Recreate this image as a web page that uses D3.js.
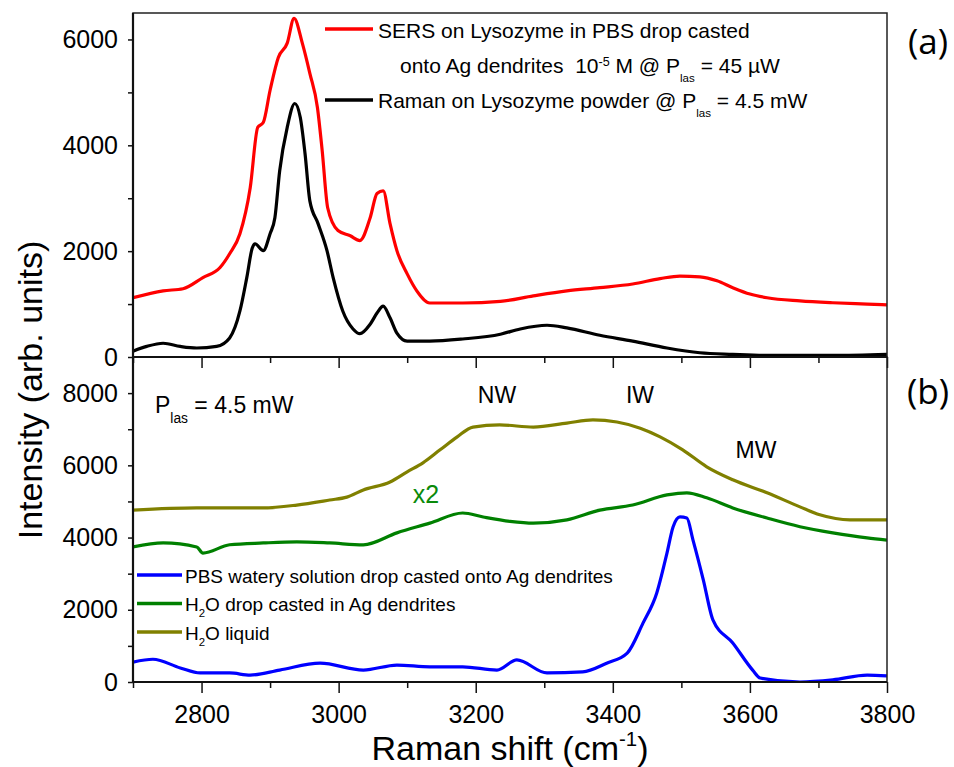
<!DOCTYPE html>
<html><head><meta charset="utf-8">
<script src="https://cdn.jsdelivr.net/npm/d3@7"></script>
<style>
body{margin:0;background:#fff}
svg text{font-family:"Liberation Sans",Arial,sans-serif;fill:#000}
</style></head><body>
<svg id="chart" width="954" height="767"></svg>
<script>
// ---------- DATA ----------
// Panel (a)
const sersShift = [2700,2744,2773,2802,2827,2841,2856,2871,2882,2890,2900,2912,2925,2935,2947,2958,2969,2976,2984,2999,3017,3031,3046,3056,3065,3075,3085,3100,3114,3133,3181,3236,3284,3333,3381,3429,3469,3498,3527,3552,3575,3600,3625,3673,3721,3771,3800];
const sersIntensity = [1120,1250,1290,1500,1690,1950,2330,3200,4340,4430,5040,5660,5930,6400,5930,5360,4720,3900,2820,2390,2290,2200,2630,3090,3140,2520,2010,1570,1250,1020,1020,1050,1155,1250,1310,1380,1480,1530,1515,1440,1310,1190,1120,1060,1025,1000,985];

const powderShift = [2700,2720,2744,2769,2793,2822,2841,2856,2866,2874,2878,2890,2900,2907,2914,2925,2936,2944,2951,2958,2970,2983,2992,3006,3021,3031,3046,3056,3065,3075,3085,3100,3133,3181,3236,3265,3304,3333,3381,3429,3479,3527,3575,3625,3721,3800];
const powderIntensity = [110,200,260,200,170,200,360,870,1500,2060,2140,2010,2330,2630,3520,4340,4790,4530,3840,2950,2520,2010,1500,870,530,440,620,830,960,740,450,300,300,340,430,530,600,550,410,300,170,80,50,30,30,50];

// Panel (b)
const liquidShift = [2700,2793,2890,2939,2987,3012,3036,3075,3100,3123,3148,3173,3196,3235,3284,3333,3371,3406,3440,3469,3502,3537,3575,3625,3673,3702,3746,3800];
const liquidIntensity = [4760,4820,4820,4900,5040,5120,5320,5540,5820,6070,6430,6790,7060,7120,7060,7170,7260,7200,7030,6790,6430,5960,5600,5240,4850,4630,4490,4490];

const agWaterShift = [2700,2744,2793,2802,2841,2890,2939,2987,3036,3085,3133,3181,3211,3250,3284,3333,3381,3429,3479,3508,3537,3575,3625,3673,3721,3771,3800];
const agWaterIntensity = [3740,3850,3740,3570,3800,3850,3880,3850,3800,4130,4400,4680,4570,4450,4400,4490,4760,4900,5180,5240,5100,4820,4540,4300,4130,3990,3930];

const pbsShift = [2700,2729,2769,2798,2841,2871,2914,2973,3036,3085,3133,3181,3231,3260,3304,3356,3391,3421,3444,3464,3479,3488,3498,3508,3517,3532,3546,3575,3604,3615,3673,3721,3771,3800];
const pbsIntensity = [550,630,390,250,250,190,330,520,330,470,420,420,330,610,250,280,520,800,1630,2460,3570,4300,4570,4540,3930,2830,1720,1080,330,110,0,60,190,170];

// Ticks
const xMajorTicks = [2800,3000,3200,3400,3600,3800];
const xMinorTicks = [2700,2900,3100,3300,3500,3700];
const yTopMajor = [0,2000,4000,6000];
const yTopMinor = [1000,3000,5000];
const yBotMajor = [0,2000,4000,6000,8000];
const yBotMinor = [1000,3000,5000,7000];

// ---------- LAYOUT ----------
const L=133, R=887, T=13, M=357, B=682;
const svg = d3.select('#chart');
const x = d3.scaleLinear().domain([2700,3800]).range([L,R]);
const yTop = d3.scaleLinear().domain([0,6500]).range([M,T]);
const yBot = d3.scaleLinear().domain([0,9000]).range([B,M]);

const defs = svg.append('defs');
defs.append('clipPath').attr('id','clipA').append('rect').attr('x',L).attr('y',T).attr('width',R-L).attr('height',M-T);
defs.append('clipPath').attr('id','clipB').append('rect').attr('x',L).attr('y',M).attr('width',R-L).attr('height',B-M);

function zip(a,b){return a.map((v,i)=>[v,b[i]]);}
function drawLine(g, ys, xs, vs, color){
  const line = d3.line().x(d=>x(d[0])).y(d=>ys(d[1])).curve(d3.curveMonotoneX);
  g.append('path').datum(zip(xs,vs)).attr('d',line).attr('fill','none')
    .attr('stroke',color).attr('stroke-width',3.2).attr('stroke-linejoin','round');
}

const gA = svg.append('g').attr('clip-path','url(#clipA)');
drawLine(gA, yTop, sersShift, sersIntensity, '#ff0000');
drawLine(gA, yTop, powderShift, powderIntensity, '#000000');

const gB = svg.append('g').attr('clip-path','url(#clipB)');
drawLine(gB, yBot, liquidShift, liquidIntensity, '#808000');
drawLine(gB, yBot, agWaterShift, agWaterIntensity, '#008000');
drawLine(gB, yBot, pbsShift, pbsIntensity, '#0000ff');

// ---------- AXES ----------
function styleAxis(g){
  g.select('.domain').remove();
  g.attr('font-family',null).attr('font-size',null);
  g.selectAll('line').attr('stroke','#111').attr('stroke-width',1.5);
  g.selectAll('text').attr('font-size',25);
}
// top panel x ticks (pointing down from the shared boundary)
svg.append('g').attr('transform',`translate(0,${M})`)
  .call(d3.axisBottom(x).tickValues(xMajorTicks).tickSize(11).tickFormat('')).call(styleAxis);
svg.append('g').attr('transform',`translate(0,${M})`)
  .call(d3.axisBottom(x).tickValues(xMinorTicks).tickSize(6).tickFormat('')).call(styleAxis);
// bottom panel x axis
svg.append('g').attr('transform',`translate(0,${B})`)
  .call(d3.axisBottom(x).tickValues(xMajorTicks).tickSize(11).tickPadding(12).tickFormat(d3.format('d'))).call(styleAxis);
svg.append('g').attr('transform',`translate(0,${B})`)
  .call(d3.axisBottom(x).tickValues(xMinorTicks).tickSize(6).tickFormat('')).call(styleAxis);
// y axes
svg.append('g').attr('transform',`translate(${L},0)`)
  .call(d3.axisLeft(yTop).tickValues(yTopMajor).tickSize(5).tickPadding(10).tickFormat(d3.format('d'))).call(styleAxis);
svg.append('g').attr('transform',`translate(${L},0)`)
  .call(d3.axisLeft(yTop).tickValues(yTopMinor).tickSize(5).tickFormat('')).call(styleAxis);
svg.append('g').attr('transform',`translate(${L},0)`)
  .call(d3.axisLeft(yBot).tickValues(yBotMajor).tickSize(5).tickPadding(10).tickFormat(d3.format('d'))).call(styleAxis);
svg.append('g').attr('transform',`translate(${L},0)`)
  .call(d3.axisLeft(yBot).tickValues(yBotMinor).tickSize(5).tickFormat('')).call(styleAxis);

// frames
svg.append('rect').attr('x',L).attr('y',T).attr('width',R-L).attr('height',M-T).attr('fill','none').attr('stroke','#222').attr('stroke-width',1.5);
svg.append('rect').attr('x',L).attr('y',M).attr('width',R-L).attr('height',B-M).attr('fill','none').attr('stroke','#222').attr('stroke-width',1.5);
svg.append('line').attr('x1',L).attr('x2',L).attr('y1',T).attr('y2',B).attr('stroke','#111').attr('stroke-width',2.2);
svg.append('line').attr('x1',L).attr('x2',R).attr('y1',M).attr('y2',M).attr('stroke','#111').attr('stroke-width',2.2);
svg.append('line').attr('x1',L).attr('x2',R).attr('y1',B).attr('y2',B).attr('stroke','#111').attr('stroke-width',2.2);

// ---------- TEXT ----------
function rich(g, xx, yy, parts, size, o={}){
  const t = g.append('text').attr('x',xx).attr('y',yy).attr('font-size',size).style('white-space','pre');
  if(o.anchor) t.attr('text-anchor',o.anchor);
  if(o.fill) t.style('fill',o.fill);
  if(o.family) t.style('font-family',o.family);
  if(o.transform) t.attr('transform',o.transform);
  let shift=0;
  parts.forEach(p=>{
    const s=p[0], k=p[1]||'', sc=p[2]||0;
    const target = k==='sup'? -sc*size : k==='sub'? sc*size : 0;
    const ts = t.append('tspan').attr('dy', target-shift).text(s);
    if(k) ts.attr('font-size', size*(p[3]||0.6));
    shift=target;
  });
  return t;
}

// legend (a)
svg.append('line').attr('x1',325).attr('x2',373).attr('y1',29).attr('y2',29).attr('stroke','#ff0000').attr('stroke-width',3.5);
svg.append('line').attr('x1',325).attr('x2',373).attr('y1',100).attr('y2',100).attr('stroke','#000').attr('stroke-width',3.5);
rich(svg,378,38,[['SERS on Lysozyme in PBS drop casted']],21);
rich(svg,400,72.5,[['onto Ag dendrites  10'],['-5','sup',0.3,0.6],[' M @ P'],['las','sub',0.45,0.55],[' = 45 \u00b5W']],21);
rich(svg,378,108,[['Raman on Lysozyme powder @ P'],['las','sub',0.45,0.55],[' = 4.5 mW']],21);

// legend (b)
const legB = [['#0000ff',575],['#008000',603.5],['#808000',632]];
legB.forEach(([c,yy])=>svg.append('line').attr('x1',137).attr('x2',182).attr('y1',yy).attr('y2',yy).attr('stroke',c).attr('stroke-width',3.5));
rich(svg,185,583,[['PBS watery solution drop casted onto Ag dendrites']],19);
rich(svg,185,611,[['H'],['2','sub',0.3,0.6],['O drop casted in Ag dendrites']],19);
rich(svg,185,640,[['H'],['2','sub',0.3,0.6],['O liquid']],19);

// annotations
rich(svg,155,413,[['P'],['las','sub',0.43,0.6],[' = 4.5 mW']],23);
rich(svg,497,403,[['NW']],23,{anchor:'middle'});
rich(svg,640,403,[['IW']],23,{anchor:'middle'});
rich(svg,756,458,[['MW']],23,{anchor:'middle'});
rich(svg,426,503,[['x2']],25,{anchor:'middle',fill:'#0a8a0a'});
rich(svg,928,54,[['(a)']],35,{anchor:'middle',family:'"Open Sans",sans-serif'});
rich(svg,928,404,[['(b)']],35,{anchor:'middle',family:'"Open Sans",sans-serif'});

// axis titles
rich(svg,510,760,[['Raman shift (cm'],['-1','sup',0.4,0.6],[')']],34,{anchor:'middle'});
rich(svg,0,0,[['Intensity (arb. units)']],34,{anchor:'middle',transform:'translate(42,390) rotate(-90)'});
</script>
</body></html>
